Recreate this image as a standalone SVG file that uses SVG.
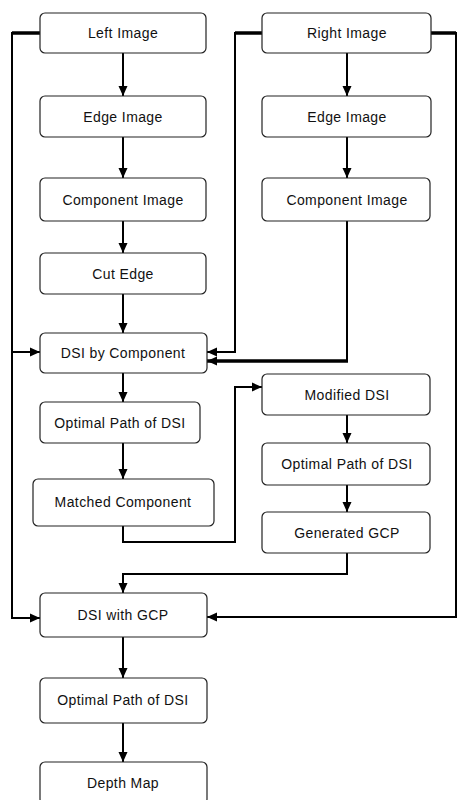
<svg xmlns="http://www.w3.org/2000/svg" width="458" height="800" viewBox="0 0 458 800">
<style>
.box{fill:#fff;stroke:#222;stroke-width:1.2}
.lbl{font-family:"Liberation Sans",Arial,sans-serif;font-size:14px;letter-spacing:0.4px;fill:#111;text-anchor:middle;dominant-baseline:central}
.c{fill:none;stroke:#000;stroke-width:2}
.t{fill:none;stroke:#000;stroke-width:3.5}
</style>
<defs>
<marker id="a" markerUnits="userSpaceOnUse" markerWidth="10" markerHeight="10" refX="10" refY="5" orient="auto">
<path d="M0,0.5 L10,5 L0,9.5 z" fill="#000"/>
</marker>
</defs>
<rect width="458" height="800" fill="#fff"/>
<g id="connectors">
<path class="t" d="M40,33 H12"/>
<path class="c" d="M12,32 V618 H40" marker-end="url(#a)"/>
<path class="c" d="M12,352 H40" marker-end="url(#a)"/>
<path class="t" d="M262,33 H235"/>
<path class="c" d="M235,32 V352 H207" marker-end="url(#a)"/>
<path class="t" d="M431,33 H456"/>
<path class="c" d="M456,32 V617 H207" marker-end="url(#a)"/>
<path class="c" d="M347,221 V361"/>
<path class="t" d="M348,361 H207" marker-end="url(#a)"/>
<path class="c" d="M123,53 V96" marker-end="url(#a)"/>
<path class="c" d="M123,137 V178" marker-end="url(#a)"/>
<path class="c" d="M123,221 V253" marker-end="url(#a)"/>
<path class="c" d="M123,294 V333" marker-end="url(#a)"/>
<path class="c" d="M123,373 V402" marker-end="url(#a)"/>
<path class="c" d="M123,443 V479" marker-end="url(#a)"/>
<path class="c" d="M347,53 V96" marker-end="url(#a)"/>
<path class="c" d="M347,137 V178" marker-end="url(#a)"/>
<path class="c" d="M347,415 V443" marker-end="url(#a)"/>
<path class="c" d="M347,485 V512" marker-end="url(#a)"/>
<path class="c" d="M123,526 V542 H235 V387 H262" marker-end="url(#a)"/>
<path class="c" d="M347,553 V574 H123 V593" marker-end="url(#a)"/>
<path class="c" d="M123,637 V678" marker-end="url(#a)"/>
<path class="c" d="M123,723 V762" marker-end="url(#a)"/>
</g>
<g id="left-image"><rect class="box" x="40" y="13" width="166" height="40" rx="5"/><text class="lbl" x="123" y="33">Left Image</text></g>
<g id="left-edge"><rect class="box" x="40" y="96" width="166" height="41" rx="5"/><text class="lbl" x="123" y="117">Edge Image</text></g>
<g id="left-component"><rect class="box" x="40" y="178" width="166" height="43" rx="5"/><text class="lbl" x="123" y="200">Component Image</text></g>
<g id="cut-edge"><rect class="box" x="40" y="253" width="166" height="41" rx="5"/><text class="lbl" x="123" y="274">Cut Edge</text></g>
<g id="dsi-component"><rect class="box" x="40" y="333" width="167" height="40" rx="5"/><text class="lbl" x="123" y="353">DSI by Component</text></g>
<g id="optimal-1"><rect class="box" x="40" y="402" width="160" height="41" rx="5"/><text class="lbl" x="120" y="423">Optimal Path of DSI</text></g>
<g id="matched"><rect class="box" x="33" y="479" width="181" height="47" rx="5"/><text class="lbl" x="123" y="502">Matched Component</text></g>
<g id="dsi-gcp"><rect class="box" x="40" y="593" width="167" height="44" rx="5"/><text class="lbl" x="123" y="615">DSI with GCP</text></g>
<g id="optimal-3"><rect class="box" x="40" y="678" width="167" height="45" rx="5"/><text class="lbl" x="123" y="700">Optimal Path of DSI</text></g>
<g id="depth-map"><rect class="box" x="40" y="762" width="167" height="42" rx="5"/><text class="lbl" x="123" y="783">Depth Map</text></g>
<g id="right-image"><rect class="box" x="262" y="13" width="169" height="40" rx="5"/><text class="lbl" x="347" y="33">Right Image</text></g>
<g id="right-edge"><rect class="box" x="262" y="96" width="169" height="41" rx="5"/><text class="lbl" x="347" y="117">Edge Image</text></g>
<g id="right-component"><rect class="box" x="262" y="178" width="168" height="43" rx="5"/><text class="lbl" x="347" y="200">Component Image</text></g>
<g id="modified-dsi"><rect class="box" x="262" y="374" width="168" height="41" rx="5"/><text class="lbl" x="347" y="395">Modified DSI</text></g>
<g id="optimal-2"><rect class="box" x="262" y="443" width="168" height="42" rx="5"/><text class="lbl" x="347" y="464">Optimal Path of DSI</text></g>
<g id="generated-gcp"><rect class="box" x="262" y="512" width="168" height="41" rx="5"/><text class="lbl" x="347" y="533">Generated GCP</text></g>
</svg>
